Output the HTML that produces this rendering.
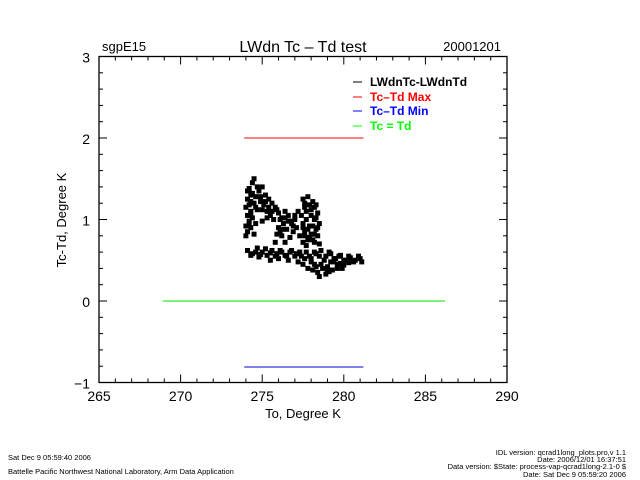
<!DOCTYPE html>
<html><head><meta charset="utf-8"><style>
body{margin:0;background:#fff;width:640px;height:480px;overflow:hidden}
svg{display:block;font-family:"Liberation Sans",sans-serif}
</style></head><body>
<svg id="chart" width="640" height="480">
<text x="102" y="51" font-size="13">sgpE15</text>
<text x="303" y="52" font-size="16" text-anchor="middle">LWdn Tc – Td test</text>
<text x="501" y="51" font-size="13" text-anchor="end">20001201</text>
<g id="axes"></g>
<g id="marks"></g>
<g font-size="12" font-weight="bold">
<g><line x1="353" y1="82" x2="362" y2="82" stroke="#000"/><text x="370" y="86" fill="#000">LWdnTc-LWdnTd</text></g>
<g><line x1="353" y1="97" x2="362" y2="97" stroke="#f00"/><text x="370" y="101" fill="#f00">Tc–Td Max</text></g>
<g><line x1="353" y1="111" x2="362" y2="111" stroke="#00f"/><text x="370" y="115" fill="#00f">Tc–Td Min</text></g>
<g><line x1="353" y1="126" x2="362" y2="126" stroke="#0f0"/><text x="370" y="130" fill="#0f0">Tc = Td</text></g>
</g>
<text x="303" y="418" font-size="13" text-anchor="middle">To, Degree K</text>
<text transform="translate(66,220) rotate(-90)" font-size="13" text-anchor="middle">Tc-Td, Degree K</text>
<g font-size="7.5">
<text x="8" y="460">Sat Dec  9 05:59:40 2006</text>
<text x="8" y="474">Battelle Pacific Northwest National Laboratory, Arm Data Application</text>
<g text-anchor="end">
<text x="626" y="455">IDL version: qcrad1long_plots.pro,v 1.1</text>
<text x="626" y="462">Date: 2006/12/01 16:37:51</text>
<text x="626" y="469">Data version: $State: process-vap-qcrad1long-2.1-0 $</text>
<text x="626" y="477">Date: Sat Dec  9 05:59:20 2006</text>
</g></g>
</svg>
<script>
const xTicks=[265,270,275,280,285,290];
const yTicks=[-1,0,1,2,3];
const maxLine=[273.9,281.2,2.0];
const minLine=[273.9,281.2,-0.81];
const equalLine=[268.9,286.2,0];
const tempK=[274.0,274.1,274.0,274.2,274.1,274.3,274.2,274.1,274.3,274.2,274.4,274.5,274.0,274.4,274.5,274.6,274.3,274.5,274.7,274.8,275.0,274.9,275.1,275.2,275.4,275.6,275.8,275.3,275.5,275.7,276.0,276.2,276.4,276.6,276.3,276.0,276.5,276.8,277.0,276.9,276.7,276.2,275.8,276.4,277.1,
277.5,277.8,278.1,278.3,277.6,278.0,278.4,277.4,277.7,278.2,278.5,277.5,277.9,278.3,277.6,278.0,278.4,277.8,278.2,277.5,278.5,277.2,277.3,
274.1,274.4,274.7,275.0,275.3,275.6,275.9,276.2,276.5,276.8,277.1,277.4,277.7,278.0,278.3,278.6,278.9,279.2,279.5,279.8,280.1,280.4,280.7,281.0,281.1,277.5,277.8,278.1,278.4,278.7,279.0,279.3,279.6,279.9,278.2,278.9,279.4,280.0,280.3,277.2,276.6,276.0,275.5,274.8,278.5,279.1,
274.2,274.3,274.1,274.4,274.6,274.7,274.9,275.0,275.2,275.4,275.6,275.9,276.1,276.4,276.7,276.9,277.0,276.6,276.3,276.1,275.9,275.3,275.0,274.6,274.3,
277.6,277.9,278.2,277.7,278.0,278.3,277.5,277.8,278.1,278.4,277.6,277.9,278.2,277.7,278.1,
274.3,274.6,274.9,275.2,275.5,275.8,276.1,276.4,276.7,277.0,277.3,277.6,277.9,278.2,278.5,278.8,279.1,279.4,279.7,280.0,280.3,280.6,280.9,278.0,278.6,279.2,279.8,278.3,279.0,279.6];
const diffK=[0.80,0.85,0.92,0.98,1.05,1.10,1.18,1.25,1.30,1.38,1.45,1.50,1.15,1.02,1.20,1.28,0.90,0.82,1.12,1.35,1.40,1.22,1.18,1.30,1.25,1.20,1.15,1.10,1.05,1.00,1.08,1.02,1.10,1.05,0.95,0.90,0.88,0.95,1.00,0.85,0.78,0.80,0.72,0.72,0.90,
1.25,1.28,1.22,1.18,1.15,1.12,1.08,1.05,1.00,1.00,0.95,0.95,0.92,0.88,0.85,0.82,0.80,0.75,0.72,0.72,0.70,1.10,0.80,
0.62,0.58,0.65,0.60,0.56,0.62,0.58,0.60,0.55,0.62,0.58,0.55,0.60,0.52,0.58,0.62,0.55,0.58,0.52,0.56,0.50,0.53,0.50,0.52,0.48,0.45,0.40,0.38,0.35,0.40,0.42,0.38,0.45,0.40,0.45,0.33,0.48,0.44,0.47,0.48,0.50,0.52,0.50,0.54,0.30,0.36,
0.95,1.22,1.35,1.32,1.15,1.40,1.28,1.12,1.22,1.15,1.10,1.12,1.00,1.02,0.98,0.92,1.05,0.98,0.88,0.85,0.82,1.02,0.98,0.95,1.08,
1.20,1.18,1.15,1.10,1.05,1.02,0.90,0.88,0.92,0.90,0.80,0.78,0.82,0.68,0.75,
0.56,0.60,0.57,0.64,0.59,0.55,0.62,0.56,0.60,0.55,0.60,0.52,0.55,0.60,0.55,0.50,0.60,0.52,0.55,0.50,0.55,0.48,0.55,0.48,0.45,0.48,0.46,0.42,0.38,0.40];
const L=99,R=507,T=56.5,B=382.5;
const xs=v=>L+(v-265)/25*(R-L);
const ys=v=>B-(v+1)/4*(B-T);
const NS="http://www.w3.org/2000/svg";
function mk(tag,attrs,parent){const e=document.createElementNS(NS,tag);for(const k in attrs)e.setAttribute(k,attrs[k]);parent.appendChild(e);return e;}
const ax=document.getElementById('axes');
const frame=mk('rect',{x:L,y:T,width:R-L,height:B-T,fill:'none',stroke:'#000','stroke-width':1.3},ax);


for(let v=265;v<=290;v++){const x=xs(v);const len=(v%5===0)?8:4;
mk('line',{x1:x,y1:B,x2:x,y2:B-len,stroke:'#000'},ax);mk('line',{x1:x,y1:T,x2:x,y2:T+len,stroke:'#000'},ax);}
for(let i=0;i<=20;i++){const v=-1+i*0.2;const y=ys(v);const len=(i%5===0)?8:4;
mk('line',{x1:L,y1:y,x2:L+len,y2:y,stroke:'#000'},ax);mk('line',{x1:R,y1:y,x2:R-len,y2:y,stroke:'#000'},ax);}
xTicks.forEach(v=>{const t=mk('text',{x:xs(v),y:401,'font-size':14,'text-anchor':'middle'},ax);t.textContent=v;

});
yTicks.forEach(v=>{const t=mk('text',{x:L-9,y:ys(v)+6,'font-size':14,'text-anchor':'end'},ax);t.textContent=v===-1?'−1':v;

});
const mg=document.getElementById('marks');
const eq=mk('line',{x1:xs(equalLine[0]),y1:ys(equalLine[2]),x2:xs(equalLine[1]),y2:ys(equalLine[2]),stroke:'#00e000'},mg);


const mx=mk('line',{x1:xs(maxLine[0]),y1:ys(maxLine[2]),x2:xs(maxLine[1]),y2:ys(maxLine[2]),stroke:'#f00'},mg);


const mn=mk('line',{x1:xs(minLine[0]),y1:ys(minLine[2]),x2:xs(minLine[1]),y2:ys(minLine[2]),stroke:'#00c'},mg);


tempK.forEach((t,i)=>{const r=mk('rect',{x:xs(t)-2.5,y:ys(diffK[i])-2.5,width:5,height:5,fill:'#000'},mg);

});
</script>
</body></html>
